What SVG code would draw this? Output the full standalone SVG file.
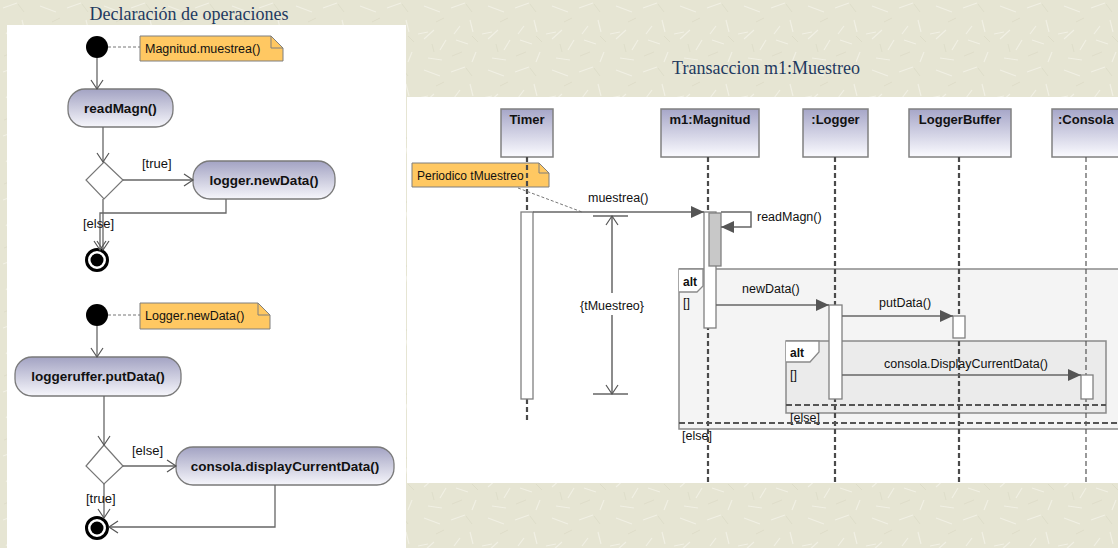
<svg xmlns="http://www.w3.org/2000/svg" width="1118" height="548" viewBox="0 0 1118 548">
<defs>
  <pattern id="tex" width="64" height="64" patternUnits="userSpaceOnUse">
    <rect width="64" height="64" fill="#e6e5d3"/>
    <g stroke="#f1f0e4" stroke-width="1.2" fill="none">
      <path d="M3,8 l14,-5 M22,20 l3,12 M40,6 l16,6 M50,30 l-10,9 M8,40 l12,4 M28,52 l-4,10 M56,50 l6,-10 M12,26 l-6,8 M34,34 l10,-2 M44,58 l14,2"/>
    </g>
    <g stroke="#dcdbc7" stroke-width="0.8" fill="none">
      <path d="M18,4 l6,8 M60,18 l-8,4 M30,42 l-6,-6 M4,56 l10,-4 M48,44 l2,8"/>
    </g>
  </pattern>
  <linearGradient id="act" x1="0" y1="0" x2="0" y2="1">
    <stop offset="0" stop-color="#a3a3c3"/>
    <stop offset="1" stop-color="#f6f6fb"/>
  </linearGradient>
  <linearGradient id="head" x1="0" y1="0" x2="0" y2="1">
    <stop offset="0" stop-color="#a6a6c8"/>
    <stop offset="1" stop-color="#fbfbff"/>
  </linearGradient>
  <marker id="open" markerUnits="userSpaceOnUse" markerWidth="12" markerHeight="14" refX="10" refY="7" orient="auto">
    <path d="M1,1 L10,7 L1,13" fill="none" stroke="#555" stroke-width="1.2"/>
  </marker>
  <marker id="fill" markerUnits="userSpaceOnUse" markerWidth="14" markerHeight="12" refX="13" refY="6" orient="auto">
    <path d="M0,0 L13,6 L0,12 z" fill="#555"/>
  </marker>
  <style>
    .title{font-family:"Liberation Serif","Times New Roman",serif;font-size:18px;fill:#1f3a60}
    .act{fill:url(#act);stroke:#7a7a7a;stroke-width:1.3}
    .acttx{font-family:"Liberation Sans",Arial,sans-serif;font-size:13.5px;font-weight:bold;fill:#111;text-anchor:middle}
    .lbl{font-family:"Liberation Sans",Arial,sans-serif;font-size:13px;fill:#111}
    .note{fill:#ffc862;stroke:#7f7f7f;stroke-width:1}
    .notetx{font-family:"Liberation Sans",Arial,sans-serif;font-size:12.5px;fill:#111}
    .edge{fill:none;stroke:#666;stroke-width:1.3}
    .anch{fill:none;stroke:#777;stroke-width:1;stroke-dasharray:3 2}
    .head{fill:url(#head);stroke:#808080;stroke-width:1.5}
    .headtx{font-family:"Liberation Sans",Arial,sans-serif;font-size:13px;font-weight:bold;fill:#111;text-anchor:middle}
    .life{fill:none;stroke:#4a4a4a;stroke-width:2.2;stroke-dasharray:5 3}
    .life2{fill:none;stroke:#555;stroke-width:1.2;stroke-dasharray:5 3}
    .exec{fill:#fff;stroke:#808080;stroke-width:1.3}
    .msg{fill:none;stroke:#666;stroke-width:1.5}
    .msgtx{font-family:"Liberation Sans",Arial,sans-serif;font-size:12.5px;fill:#111}
    .frag{stroke:#8a8a8a;stroke-width:1.5}
    .sep{fill:none;stroke:#555;stroke-width:2;stroke-dasharray:6 3}
    .fragtx{font-family:"Liberation Sans",Arial,sans-serif;font-size:12px;font-weight:bold;fill:#111}
  </style>
</defs>

<!-- background -->
<rect x="0" y="0" width="1118" height="548" fill="url(#tex)"/>

<text class="title" x="189" y="20" text-anchor="middle">Declaración de operaciones</text>
<text class="title" x="766" y="74" text-anchor="middle">Transaccion m1:Muestreo</text>

<rect x="7" y="25" width="399" height="523" fill="#fff"/>
<rect x="407" y="97" width="711" height="386" fill="#fff"/>

<!-- ===== Activity diagram 1 ===== -->
<g id="init1"><circle cx="97" cy="47" r="11" fill="#000"/></g>
<g id="note1">
  <path class="note" d="M140,36 H271 L283,48 V61 H140 Z"/>
  <path d="M271,36 V48 H283" fill="none" stroke="#7f7f7f"/>
  <text class="notetx" x="145" y="53">Magnitud.muestrea()</text>
</g>
<g id="readMagn">
  <rect class="act" x="68" y="89" width="105" height="38" rx="17"/>
  <text class="acttx" x="120.5" y="113">readMagn()</text>
</g>
<g id="dec1"><path d="M104,162 L123,180 L104,199 L86,180 Z" fill="#fff" stroke="#777" stroke-width="1.2"/></g>
<g id="loggerNewData">
  <rect class="act" x="193" y="161" width="142" height="38" rx="17"/>
  <text class="acttx" x="264" y="185">logger.newData()</text>
</g>
<g id="final1">
  <circle cx="97" cy="260" r="10.5" fill="#fff" stroke="#000" stroke-width="3"/>
  <circle cx="97" cy="260" r="6.5" fill="#000"/>
</g>

<!-- ===== Activity diagram 2 ===== -->
<g id="init2"><circle cx="97" cy="315" r="11" fill="#000"/></g>
<g id="note2">
  <path class="note" d="M140,303 H258 L270,315 V329 H140 Z"/>
  <path d="M258,303 V315 H270" fill="none" stroke="#7f7f7f"/>
  <text class="notetx" x="145" y="320">Logger.newData()</text>
</g>
<g id="loggerufferPutData">
  <rect class="act" x="15" y="357" width="166" height="39" rx="17"/>
  <text class="acttx" x="98" y="381">loggeruffer.putData()</text>
</g>
<g id="dec2"><path d="M104,445 L123,466 L104,484 L86,466 Z" fill="#fff" stroke="#777" stroke-width="1.2"/></g>
<g id="consolaDisplay">
  <rect class="act" x="176" y="447" width="218" height="38" rx="17"/>
  <text class="acttx" x="285" y="471">consola.displayCurrentData()</text>
</g>
<g id="final2">
  <circle cx="97" cy="528" r="10.5" fill="#fff" stroke="#000" stroke-width="3"/>
  <circle cx="97" cy="528" r="6.5" fill="#000"/>
</g>

<!-- ===== Sequence diagram ===== -->
<g id="fragAltOuter">
  <rect class="frag" x="679" y="269" width="460" height="160" fill="#f4f4f4"/>
  <path d="M679,269 H703 V286 L697,292 H679" fill="#fff" stroke="#8a8a8a" stroke-width="1.3"/>
  <text class="fragtx" x="683" y="286">alt</text>
  <text class="msgtx" x="683" y="307">[]</text>
  <text class="msgtx" x="682" y="440">[else]</text>
</g>
<g id="fragAltInner">
  <rect class="frag" x="786" y="341" width="320" height="72" fill="#ebebeb"/>
  <path d="M786,341 H819 V352 L810,362 H786" fill="#fff" stroke="#8a8a8a" stroke-width="1.3"/>
  <text class="fragtx" x="790" y="357">alt</text>
  <text class="msgtx" x="790" y="379">[]</text>
  <text class="msgtx" x="790" y="422">[else]</text>
</g>

<g id="Timer">
  <rect class="head" x="501" y="109" width="52" height="48"/>
  <text class="headtx" x="527" y="124">Timer</text>
</g>
<g id="m1Magnitud">
  <rect class="head" x="661" y="109" width="98" height="48"/>
  <text class="headtx" x="710" y="124">m1:Magnitud</text>
</g>
<g id="Logger">
  <rect class="head" x="803" y="109" width="65" height="48"/>
  <text class="headtx" x="835.5" y="124">:Logger</text>
</g>
<g id="LoggerBuffer">
  <rect class="head" x="909" y="109" width="102" height="48"/>
  <text class="headtx" x="960" y="124">LoggerBuffer</text>
</g>
<g id="Consola">
  <rect class="head" x="1052" y="109" width="80" height="48"/>
  <text class="headtx" x="1058" y="124" style="text-anchor:start">:Consola</text>
</g>

<g id="noteTimer">
  <path class="note" d="M412,163 H539 L549,173 V187 H412 Z"/>
  <path d="M539,163 V173 H549" fill="none" stroke="#7f7f7f"/>
  <text class="notetx" x="417" y="180" style="font-size:12px">Periodico tMuestreo</text>
</g>

<g id="connectors">
  <!-- activity 1 -->
  <path class="anch" d="M108,47 H140"/>
  <path class="edge" d="M97,58 V89" marker-end="url(#open)"/>
  <path class="edge" d="M103,127 V162" marker-end="url(#open)"/>
  <path class="edge" d="M123,180 H193" marker-end="url(#open)"/>
  <text class="lbl" x="142" y="168">[true]</text>
  <path class="edge" d="M103,199 V250" marker-end="url(#open)"/>
  <path class="edge" d="M226,199 V213 H100 V250" marker-end="url(#open)"/>
  <text class="lbl" x="83" y="228">[else]</text>
  <!-- activity 2 -->
  <path class="anch" d="M108,315 H140"/>
  <path class="edge" d="M97,326 V357" marker-end="url(#open)"/>
  <path class="edge" d="M104,396 V445" marker-end="url(#open)"/>
  <path class="edge" d="M123,466 H176" marker-end="url(#open)"/>
  <text class="lbl" x="132" y="455">[else]</text>
  <path class="edge" d="M104,484 V518" marker-end="url(#open)"/>
  <text class="lbl" x="86" y="503">[true]</text>
  <path class="edge" d="M275,485 V527 H109" marker-end="url(#open)"/>

  <!-- lifelines -->
  <path class="life" d="M527,157 V212"/>
  <path class="life" d="M527,399 V420"/>
  <path class="life" d="M708,157 V483"/>
  <path class="life" d="M835,157 V483"/>
  <path class="life" d="M959,157 V483"/>
  <path class="life2" d="M1086,157 V483"/>

  <!-- separators -->
  <path class="sep" d="M679,423 H1118"/>
  <path class="sep" d="M786,405 H1106"/>

  <!-- activations -->
  <rect class="exec" x="521" y="212" width="12" height="187"/>
  <rect class="exec" x="704" y="212" width="12" height="116"/>
  <rect x="709" y="213" width="12" height="53" fill="#c8c8c8" stroke="#808080" stroke-width="1.3"/>
  <rect class="exec" x="829" y="305" width="13" height="94"/>
  <rect class="exec" x="953" y="316" width="12" height="22"/>
  <rect class="exec" x="1081" y="375" width="12" height="24"/>

  <!-- note anchor -->
  <path class="anch" d="M518,188 L582,212"/>

  <!-- messages -->
  <path class="msg" d="M533,212 H704" marker-end="url(#fill)"/>
  <text class="msgtx" x="588" y="202">muestrea()</text>
  <path class="msg" d="M721,212 H751 V227 H721" marker-end="url(#fill)"/>
  <text class="msgtx" x="757" y="221">readMagn()</text>
  <path class="msg" d="M716,305 H829" marker-end="url(#fill)"/>
  <text class="msgtx" x="742" y="293">newData()</text>
  <path class="msg" d="M842,316 H953" marker-end="url(#fill)"/>
  <text class="msgtx" x="879" y="307">putData()</text>
  <path class="msg" d="M842,375 H1081" marker-end="url(#fill)"/>
  <text class="msgtx" x="884" y="368">consola.DisplayCurrentData()</text>

  <!-- duration constraint -->
  <path class="msg" d="M593,216 H628 M593,394 H628"/>
  <path class="msg" d="M612,293 V216" marker-end="url(#open)"/>
  <path class="msg" d="M612,315 V394" marker-end="url(#open)"/>
  <text class="msgtx" x="612" y="310" text-anchor="middle">{tMuestreo}</text>
</g>
</svg>
